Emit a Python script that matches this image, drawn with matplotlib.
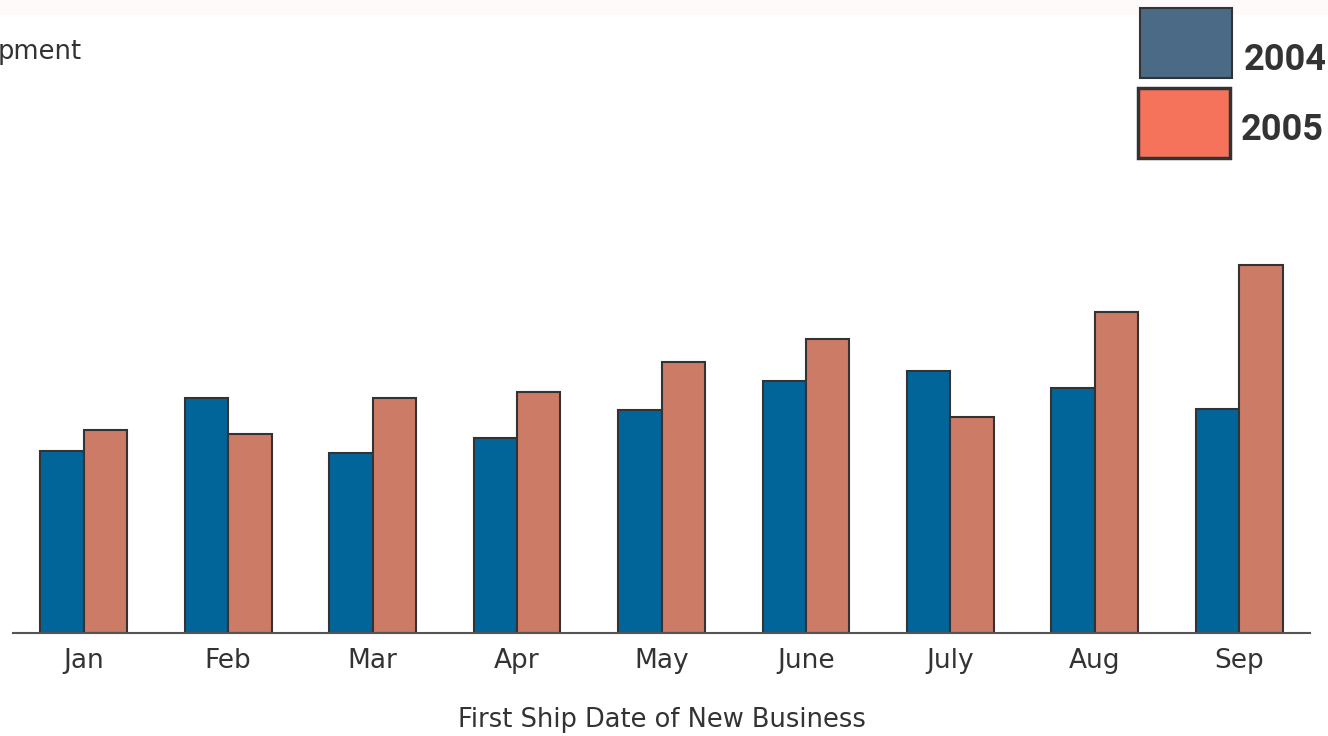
import matplotlib
matplotlib.use("Agg")
import matplotlib.pyplot as plt
from matplotlib.patches import Rectangle
import numpy as np

months = ["Jan", "Feb", "Mar", "Apr", "May", "June", "July", "Aug", "Sep"]
sales_2004 = [18.2, 23.5, 18.0, 19.5, 22.3, 25.2, 26.2, 24.5, 22.4]
sales_2005 = [20.3, 19.9, 23.5, 24.1, 27.1, 29.4, 21.6, 32.1, 36.8]
series_names = ["2004", "2005"]

W, H = 1328, 736
fig = plt.figure(figsize=(W / 100, H / 100), dpi=100)
fig.patch.set_facecolor("white")

# faint strip along the top edge
fig.patches.append(Rectangle((0, 1 - 15 / H), 1, 15 / H, transform=fig.transFigure,
                             facecolor="#fffafa", edgecolor="none", zorder=0))

base_px = 633
ax = fig.add_axes([13 / W, (H - base_px) / H, (1310 - 13) / W, base_px / H])
ax.set_facecolor("none")

x = np.arange(len(months))
bw = 0.30
bar_blue = "#02659a"
bar_orange = "#cc7b67"
ax.bar(x - bw / 2, sales_2004, width=bw, color=bar_blue, edgecolor="#333333", linewidth=1.5, zorder=2)
ax.bar(x + bw / 2, sales_2005, width=bw, color=bar_orange, edgecolor="#333333", linewidth=1.5, zorder=2)

ax.set_xlim(-0.49, len(months) - 1 + 0.49)
ax.set_ylim(0, base_px / 10)

for s in ["top", "right", "left"]:
    ax.spines[s].set_visible(False)
ax.spines["bottom"].set_color("#555555")
ax.spines["bottom"].set_linewidth(1.5)
ax.set_yticks([])
ax.set_xticks(x)
ax.set_xticklabels(months, fontsize=19, color="#333333", family="DejaVu Sans")
ax.tick_params(axis="x", length=0, pad=11)

fig.text(662 / W, 1 - 727 / H, "First Ship Date of New Business", ha="center", va="baseline",
         fontsize=18.5, color="#333333", family="DejaVu Sans")

fig.text(-2 / W, 1 - 59 / H, "pment", ha="left", va="baseline", fontsize=18.5, color="#333333",
         family="DejaVu Sans")

# legend swatches with bold year labels
legend_items = [
    (series_names[0], "#4a6a85", (1140, 8, 92, 70), 1.5, 1285, 70),
    (series_names[1], "#f5735a", (1138, 88, 92, 70), 2.5, 1282, 140),
]
for label, col, (lx, ly, lw, lh), ew, tx, ty in legend_items:
    fig.patches.append(Rectangle((lx / W, 1 - (ly + lh) / H), lw / W, lh / H,
                                 transform=fig.transFigure, facecolor=col,
                                 edgecolor="#333333", linewidth=ew, zorder=3))
    fig.text(tx / W, 1 - ty / H, label, ha="center", va="baseline", fontsize=26,
             fontweight="bold", color="#333333", family="Roboto")

fig.savefig("out.png", dpi=100)
